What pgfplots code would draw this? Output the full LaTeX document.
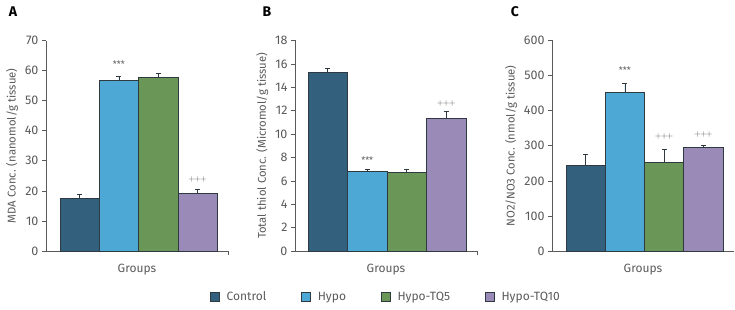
\documentclass[border=0pt]{standalone}
\usepackage{pgfplots}
\pgfplotsset{compat=1.18}
\usepackage{fontspec}
\setmainfont{Fira Sans}
\definecolor{cCtrl}{HTML}{33607D}
\definecolor{cHypo}{HTML}{4DA8D6}
\definecolor{cTQ5}{HTML}{6A9657}
\definecolor{cTQ10}{HTML}{9A8AB8}
\definecolor{txt}{HTML}{5A5A5A}
\definecolor{edge}{HTML}{2E3A40}

\tikzset{bartxt/.style={font=\fontsize{9}{10}\selectfont, text=txt}}
% significance marks
\newcommand{\stars}{***}
\newcommand{\pluses}{{\fontsize{8}{9}\selectfont$\textstyle{+}\mkern-1.5mu{+}\mkern-1.5mu{+}$}}

\pgfplotsset{
  panel/.style={
    scale only axis, width=182pt, height=210.5pt,
    anchor=south west,
    axis lines*=left,
    axis line style={draw=txt, line width=0.7pt},
    ymin=0,
    xtick=\empty,
    ytick style={draw=txt, line width=0.6pt},
    tick align=outside, major tick length=4pt,
    ticklabel style={font=\fontsize{12.5}{14}\selectfont, text=txt},
    /pgf/number format/assume math mode=true,
    xlabel={Groups},
    xlabel style={font=\fontsize{12}{14}\selectfont, text=txt, at={(0.5,0)}, anchor=north, yshift=-10pt},
    ylabel style={font=\fontsize{11.3}{13}\selectfont, text=txt},
    ybar, bar width=1, bar shift=0pt,
    every axis plot/.append style={draw=edge, line width=0.6pt},
    error bars/y dir=plus, error bars/y explicit,
    error bars/error bar style={draw=edge, line width=0.7pt},
    error bars/error mark options={rotate=90, mark size=2.5pt, draw=edge, line width=0.7pt},
    clip=false,
  },
  endtick/.style={extra x ticks={#1}, extra x tick labels={},
    extra x tick style={major tick length=4pt, tick style={draw=txt, line width=0.6pt}}},
}

\begin{document}
\begin{tikzpicture}
\path[use as bounding box] (0,0) rectangle (735pt,310pt);

% Panel A: MDA
\begin{axis}[panel, at={(46pt,59pt)}, xmin=0.144, xmax=4.775, ymax=70,
  ytick={0,10,...,70}, endtick=4.775,
  ylabel={MDA Conc. (nanomol/g tissue)}]
\addplot[fill=cCtrl] coordinates {(1,17.5) +- (0,1.2)};
\addplot[fill=cHypo] coordinates {(2,56.7) +- (0,1.3)};
\addplot[fill=cTQ5]  coordinates {(3,57.7) +- (0,1.5)};
\addplot[fill=cTQ10] coordinates {(4,19.3) +- (0,1.2)};
\node[bartxt] at (axis cs:2,62) {\stars};
\node[bartxt] at (axis cs:4,23.8) {\pluses};
\end{axis}
\node[font=\fontsize{14}{16}\selectfont\bfseries] at (13pt,298pt) {A};

% Panel B: total thiol
\begin{axis}[panel, at={(295pt,59pt)}, xmin=0.171, xmax=4.78, ymax=18,
  ytick={0,2,...,18}, endtick=4.78,
  ylabel={Total thiol Conc. (Micromol/g tissue)},
  legend columns=4,
  legend style={at={(0.5,-0.2185)}, anchor=center, draw=none, fill=none,
    font=\fontsize{12}{14}\selectfont, text=txt,
    /tikz/every odd column/.append style={column sep=5pt},
    /tikz/every even column/.append style={column sep=33pt}},
  legend image code/.code={\draw[#1, draw=edge, line width=0.5pt] (0pt,-4.5pt) rectangle (9pt,4.5pt);}]
\addplot[fill=cCtrl] coordinates {(1,15.3) +- (0,0.3)};
\addplot[fill=cHypo] coordinates {(2,6.85) +- (0,0.12)};
\addplot[fill=cTQ5]  coordinates {(3,6.75) +- (0,0.25)};
\addplot[fill=cTQ10] coordinates {(4,11.35) +- (0,0.6)};
\legend{Control, Hypo, Hypo-TQ5, Hypo-TQ10}
\node[bartxt] at (axis cs:2,7.8) {\stars};
\node[bartxt] at (axis cs:4,12.65) {\pluses};
\end{axis}
\node[font=\fontsize{14}{16}\selectfont\bfseries] at (267pt,298pt) {B};

% Panel C: NO2/NO3
\begin{axis}[panel, at={(552pt,59pt)}, xmin=0.143, xmax=4.78, ymax=600,
  ytick={0,100,...,600},
  ylabel={NO2/NO3 Conc. (nmol/g tissue)}]
\addplot[fill=cCtrl] coordinates {(1,243) +- (0,32)};
\addplot[fill=cHypo] coordinates {(2,452) +- (0,27)};
\addplot[fill=cTQ5]  coordinates {(3,254) +- (0,35)};
\addplot[fill=cTQ10] coordinates {(4,295) +- (0,6)};
\node[bartxt] at (axis cs:2,516) {\stars};
\node[bartxt] at (axis cs:3,325) {\pluses};
\node[bartxt] at (axis cs:4,333) {\pluses};
\end{axis}
\node[font=\fontsize{14}{16}\selectfont\bfseries] at (515pt,298pt) {C};
\end{tikzpicture}
\end{document}
